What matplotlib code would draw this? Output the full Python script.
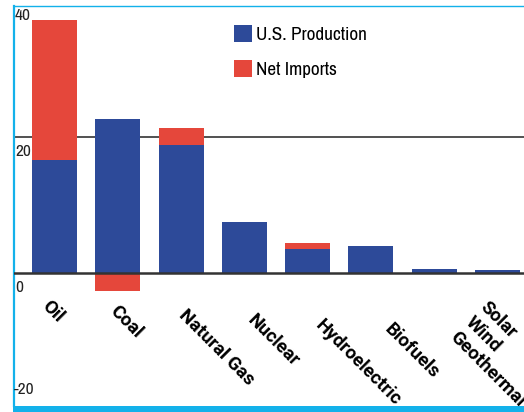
import matplotlib
matplotlib.use("Agg")
import matplotlib.pyplot as plt
import matplotlib.transforms as mtransforms
from matplotlib.patches import Rectangle
import numpy as np

# energy source categories (last label covers the two small bars)
labels = ["Oil", "Coal", "Natural Gas", "Nuclear", "Hydroelectric",
          "Biofuels", "Solar\nWind\nGeothermal"]
production = [16.6, 22.6, 18.8, 7.5, 3.5, 4.0, 0.6, 0.45]
net_imports = [20.6, -2.6, 2.5, 0.0, 0.9, 0.0, 0.0, 0.0]
ytick_values = [40, 20, 0, -20]

blue = "#2d4a99"
red = "#e5473b"
cyan = "#13b1ea"
txt_font = ["Archivo Narrow", "DejaVu Sans"]

fig = plt.figure(figsize=(5.24, 4.12), dpi=100)
ax = fig.add_axes([14 / 524, 6 / 412, 510 / 524, 400 / 412])

x = np.arange(len(production))
prod = np.array(production)
imp = np.array(net_imports)
bottoms = np.where(imp > 0, prod, 0)

ax.bar(x, prod, width=0.71, color=blue, zorder=2, label="U.S. Production")
ax.bar(x, imp, bottom=bottoms, width=0.71, color=red, zorder=2, label="Net Imports")

ax.axhline(20, color="#333333", lw=1.2, zorder=1)
ax.axhline(0, color="#333333", lw=1.8, zorder=3)

ax.set_xlim(-0.64, 7.418)
ax.set_ylim(-19.56, 39.26)
ax.set_xticks([])
ax.set_yticks([])

for side in ["right", "bottom"]:
    ax.spines[side].set_visible(False)
ax.spines["left"].set_color(cyan)
ax.spines["left"].set_linewidth(1.6)
ax.spines["top"].set_color(cyan)
ax.spines["top"].set_linewidth(1.0)

# thick cyan band along the bottom
fig.add_artist(Rectangle((13 / 524, 0), 511 / 524, 6 / 412,
                         transform=fig.transFigure, color=cyan, lw=0))

# y tick labels sit a little below their lines
blend = mtransforms.blended_transform_factory(ax.transAxes, ax.transData)
shifted = mtransforms.offset_copy(blend, fig=fig, y=-15, units="dots")
for v in ytick_values[:-1]:
    ax.text(0.002, v, str(v), transform=shifted, ha="left", va="center",
            fontsize=12.5, family=txt_font, color="#222222")
ax.text(0.0, 0.04, str(ytick_values[-1]), transform=ax.transAxes,
        ha="left", va="center", fontsize=12.5, family=txt_font, color="#222222")

# rotated category labels
lab_blend = mtransforms.blended_transform_factory(ax.transData, ax.transAxes)
for i, lab in enumerate(labels):
    lx = -0.06 + 1.083 * i
    ly = 0.272 - 0.0117 * i
    if "\n" in lab:
        tr = mtransforms.offset_copy(lab_blend, fig=fig, x=-11.2, y=-11.2, units="points")
        va = "bottom"
    else:
        tr = lab_blend
        va = "top"
    ax.text(lx, ly, lab, transform=tr, rotation=-45, rotation_mode="anchor",
            ha="left", va=va, fontsize=13.5, fontweight="bold", family="Roboto",
            linespacing=1.25, color="black", clip_on=False)

ax.legend(loc="upper left", bbox_to_anchor=(0.431, 0.9525), frameon=False,
          borderpad=0, borderaxespad=0, handlelength=0.95, handleheight=0.95,
          handletextpad=0.2, labelspacing=0.9,
          prop={"family": txt_font, "size": 13.8})

fig.savefig("out.png", dpi=100)
